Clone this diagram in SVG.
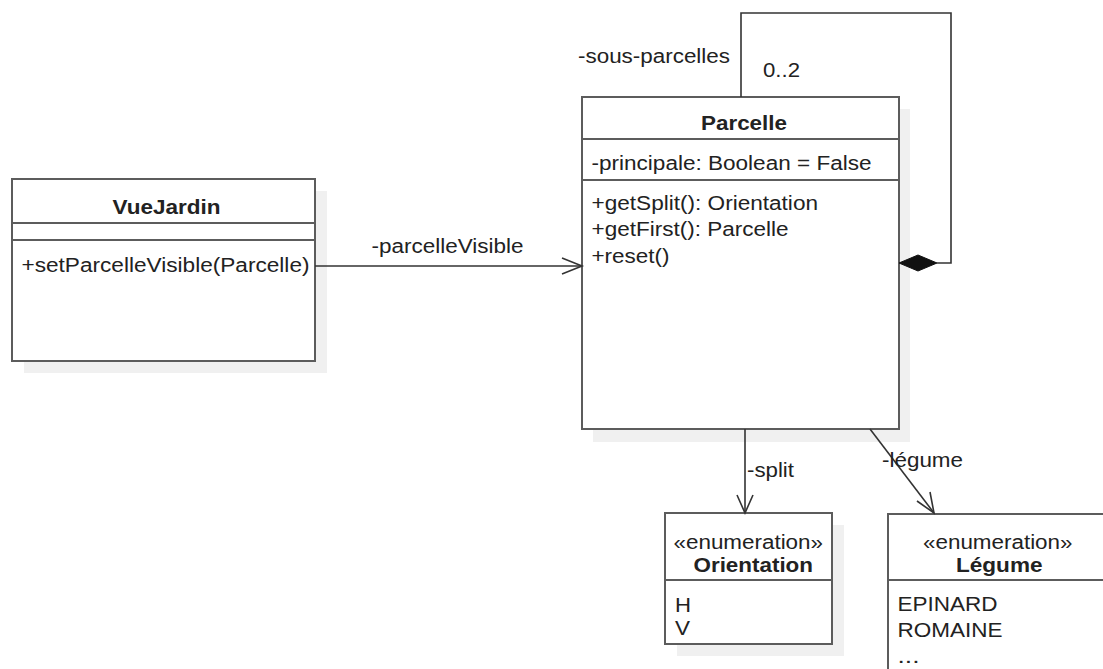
<svg xmlns="http://www.w3.org/2000/svg" width="1103" height="669" viewBox="0 0 1103 669">
<style>
.bg{fill:#ffffff}
.shadow{fill:#f0f0f0;stroke:none}
.box{fill:#ffffff;stroke:#5c5c5c;stroke-width:2}
.sep{stroke:#5c5c5c;stroke-width:2}
.t{font-family:"Liberation Sans",Arial,sans-serif;font-size:19.5px;fill:#222222}
.b{font-weight:bold}
.edge{fill:none;stroke:#333333;stroke-width:1.6}
.ah{fill:none;stroke:#333333;stroke-width:1.6}
</style>
<rect class="bg" x="0" y="0" width="1103" height="669"/>
<g id="VueJardin">
  <rect class="shadow" x="24" y="191" width="303" height="182"/>
  <rect class="box" x="12" y="179" width="303" height="182"/>
  <line class="sep" x1="12" y1="223" x2="315" y2="223"/>
  <line class="sep" x1="12" y1="240" x2="315" y2="240"/>
  <text class="t b" x="112.5" y="214" textLength="108" lengthAdjust="spacingAndGlyphs">VueJardin</text>
  <text class="t" x="21.5" y="271.5" textLength="288" lengthAdjust="spacingAndGlyphs">+setParcelleVisible(Parcelle)</text>
</g>
<g id="Parcelle">
  <rect class="shadow" x="593" y="109" width="317" height="333"/>
  <rect class="box" x="582" y="97" width="317" height="332"/>
  <line class="sep" x1="582" y1="139" x2="899" y2="139"/>
  <line class="sep" x1="582" y1="180" x2="899" y2="180"/>
  <text class="t b" x="701" y="130" textLength="86" lengthAdjust="spacingAndGlyphs">Parcelle</text>
  <text class="t" x="591.5" y="170" textLength="280" lengthAdjust="spacingAndGlyphs">-principale: Boolean = False</text>
  <text class="t" x="591.5" y="209.5" textLength="226.5" lengthAdjust="spacingAndGlyphs">+getSplit(): Orientation</text>
  <text class="t" x="591.5" y="236" textLength="197" lengthAdjust="spacingAndGlyphs">+getFirst(): Parcelle</text>
  <text class="t" x="591.5" y="262.5" textLength="78" lengthAdjust="spacingAndGlyphs">+reset()</text>
</g>
<g id="Orientation">
  <rect class="shadow" x="677" y="525" width="167" height="131"/>
  <rect class="box" x="665" y="513" width="167" height="131"/>
  <line class="sep" x1="665" y1="580" x2="832" y2="580"/>
  <text class="t" x="673.5" y="548.5" textLength="149.5" lengthAdjust="spacingAndGlyphs">«enumeration»</text>
  <text class="t b" x="693.5" y="571.5" textLength="119.5" lengthAdjust="spacingAndGlyphs">Orientation</text>
  <text class="t" x="675" y="611.5" textLength="16" lengthAdjust="spacingAndGlyphs">H</text>
  <text class="t" x="675" y="635" textLength="15" lengthAdjust="spacingAndGlyphs">V</text>
</g>
<g id="Legume">
  <rect class="shadow" x="900" y="526" width="240" height="180"/>
  <rect class="box" x="888" y="514" width="240" height="180"/>
  <line class="sep" x1="888" y1="580" x2="1128" y2="580"/>
  <text class="t" x="923" y="548.5" textLength="149.5" lengthAdjust="spacingAndGlyphs">«enumeration»</text>
  <text class="t b" x="956" y="571.5" textLength="86.5" lengthAdjust="spacingAndGlyphs">Légume</text>
  <text class="t" x="897.5" y="610.5" textLength="100" lengthAdjust="spacingAndGlyphs">EPINARD</text>
  <text class="t" x="897.5" y="636.5" textLength="105" lengthAdjust="spacingAndGlyphs">ROMAINE</text>
  <text class="t" x="897.5" y="663" textLength="22" lengthAdjust="spacingAndGlyphs">...</text>
</g>
<g id="connectors">
  <path class="edge" d="M315,266 L582,266"/>
  <path class="ah" d="M562,258 L582,266 L562,274"/>
  <path class="edge" d="M745,429 L745,513"/>
  <path class="ah" d="M737,495 L745,513 L753,495"/>
  <path class="edge" d="M870,429 L934,513"/>
  <path class="ah" d="M917,501 L934,513 L930,492"/>
  <path class="edge" d="M937,263 L951,263 L951,13 L741,13 L741,97"/>
  <path d="M899,263 L918,255 L937,263 L918,271 Z" fill="#111111" stroke="#111111" stroke-width="1"/>
  <text class="t" x="371.5" y="252.5" textLength="152" lengthAdjust="spacingAndGlyphs">-parcelleVisible</text>
  <text class="t" x="578" y="63" textLength="152" lengthAdjust="spacingAndGlyphs">-sous-parcelles</text>
  <text class="t" x="763" y="77" textLength="37" lengthAdjust="spacingAndGlyphs">0..2</text>
  <text class="t" x="747" y="476.5" textLength="47" lengthAdjust="spacingAndGlyphs">-split</text>
  <text class="t" x="882" y="466.5" textLength="81" lengthAdjust="spacingAndGlyphs">-légume</text>
</g>
</svg>
